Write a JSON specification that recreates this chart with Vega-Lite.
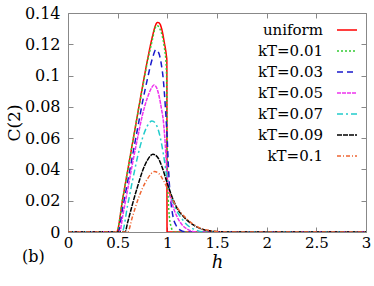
{
  "$schema": "https://vega.github.io/schema/vega-lite/v6.json",
  "width": 298,
  "height": 219,
  "padding": {"left": 5, "top": 5, "right": 5, "bottom": 5},
  "background": "white",
  "config": {
    "view": {"stroke": "#888888", "strokeWidth": 1},
    "font": "DejaVu Serif",
    "axis": {"labelFont": "DejaVu Serif", "titleFont": "DejaVu Serif"},
    "legend": {"labelFont": "DejaVu Serif"},
    "title": {"font": "DejaVu Serif"}
  },
  "title": {
    "text": "(b)", "orient": "bottom", "anchor": "start", "frame": "group",
    "fontSize": 16, "fontWeight": "normal", "color": "#000000",
    "dx": -46, "dy": -22, "offset": 0
  },
  "data": {
    "values": [
      {"s": "uniform", "h": 0, "c": 0},
      {"s": "uniform", "h": 0.49, "c": 0},
      {"s": "uniform", "h": 0.55, "c": 0.021},
      {"s": "uniform", "h": 0.6, "c": 0.039},
      {"s": "uniform", "h": 0.65, "c": 0.057},
      {"s": "uniform", "h": 0.7, "c": 0.075},
      {"s": "uniform", "h": 0.75, "c": 0.093},
      {"s": "uniform", "h": 0.8, "c": 0.11},
      {"s": "uniform", "h": 0.85, "c": 0.125},
      {"s": "uniform", "h": 0.88, "c": 0.132},
      {"s": "uniform", "h": 0.9, "c": 0.134},
      {"s": "uniform", "h": 0.92, "c": 0.1335},
      {"s": "uniform", "h": 0.95, "c": 0.128},
      {"s": "uniform", "h": 0.97, "c": 0.121},
      {"s": "uniform", "h": 0.99, "c": 0.113},
      {"s": "uniform", "h": 0.995, "c": 0.11},
      {"s": "uniform", "h": 0.997, "c": 0},
      {"s": "uniform", "h": 3, "c": 0},

      {"s": "kT=0.01", "h": 0, "c": 0},
      {"s": "kT=0.01", "h": 0.49, "c": 0},
      {"s": "kT=0.01", "h": 0.55, "c": 0.021},
      {"s": "kT=0.01", "h": 0.6, "c": 0.039},
      {"s": "kT=0.01", "h": 0.65, "c": 0.057},
      {"s": "kT=0.01", "h": 0.7, "c": 0.075},
      {"s": "kT=0.01", "h": 0.75, "c": 0.092},
      {"s": "kT=0.01", "h": 0.8, "c": 0.109},
      {"s": "kT=0.01", "h": 0.85, "c": 0.123},
      {"s": "kT=0.01", "h": 0.875, "c": 0.13},
      {"s": "kT=0.01", "h": 0.895, "c": 0.132},
      {"s": "kT=0.01", "h": 0.92, "c": 0.1305},
      {"s": "kT=0.01", "h": 0.95, "c": 0.125},
      {"s": "kT=0.01", "h": 0.97, "c": 0.118},
      {"s": "kT=0.01", "h": 0.99, "c": 0.105},
      {"s": "kT=0.01", "h": 0.995, "c": 0.09},
      {"s": "kT=0.01", "h": 1.0, "c": 0.04},
      {"s": "kT=0.01", "h": 1.01, "c": 0.02},
      {"s": "kT=0.01", "h": 1.02, "c": 0.01},
      {"s": "kT=0.01", "h": 1.04, "c": 0.003},
      {"s": "kT=0.01", "h": 1.06, "c": 0},
      {"s": "kT=0.01", "h": 3, "c": 0},

      {"s": "kT=0.03", "h": 0, "c": 0},
      {"s": "kT=0.03", "h": 0.505, "c": 0},
      {"s": "kT=0.03", "h": 0.55, "c": 0.015},
      {"s": "kT=0.03", "h": 0.6, "c": 0.032},
      {"s": "kT=0.03", "h": 0.65, "c": 0.049},
      {"s": "kT=0.03", "h": 0.7, "c": 0.066},
      {"s": "kT=0.03", "h": 0.75, "c": 0.083},
      {"s": "kT=0.03", "h": 0.8, "c": 0.098},
      {"s": "kT=0.03", "h": 0.85, "c": 0.111},
      {"s": "kT=0.03", "h": 0.885, "c": 0.1165},
      {"s": "kT=0.03", "h": 0.91, "c": 0.115},
      {"s": "kT=0.03", "h": 0.94, "c": 0.107},
      {"s": "kT=0.03", "h": 0.96, "c": 0.097},
      {"s": "kT=0.03", "h": 0.98, "c": 0.08},
      {"s": "kT=0.03", "h": 1.0, "c": 0.058},
      {"s": "kT=0.03", "h": 1.01, "c": 0.043},
      {"s": "kT=0.03", "h": 1.02, "c": 0.031},
      {"s": "kT=0.03", "h": 1.04, "c": 0.017},
      {"s": "kT=0.03", "h": 1.06, "c": 0.009},
      {"s": "kT=0.03", "h": 1.09, "c": 0.004},
      {"s": "kT=0.03", "h": 1.13, "c": 0.0012},
      {"s": "kT=0.03", "h": 1.2, "c": 0},
      {"s": "kT=0.03", "h": 3, "c": 0},

      {"s": "kT=0.05", "h": 0, "c": 0},
      {"s": "kT=0.05", "h": 0.52, "c": 0},
      {"s": "kT=0.05", "h": 0.55, "c": 0.01},
      {"s": "kT=0.05", "h": 0.6, "c": 0.027},
      {"s": "kT=0.05", "h": 0.65, "c": 0.044},
      {"s": "kT=0.05", "h": 0.7, "c": 0.06},
      {"s": "kT=0.05", "h": 0.75, "c": 0.075},
      {"s": "kT=0.05", "h": 0.8, "c": 0.086},
      {"s": "kT=0.05", "h": 0.84, "c": 0.092},
      {"s": "kT=0.05", "h": 0.865, "c": 0.094},
      {"s": "kT=0.05", "h": 0.89, "c": 0.0925},
      {"s": "kT=0.05", "h": 0.92, "c": 0.086},
      {"s": "kT=0.05", "h": 0.94, "c": 0.079},
      {"s": "kT=0.05", "h": 0.96, "c": 0.071},
      {"s": "kT=0.05", "h": 0.98, "c": 0.055},
      {"s": "kT=0.05", "h": 0.995, "c": 0.038},
      {"s": "kT=0.05", "h": 1.01, "c": 0.03},
      {"s": "kT=0.05", "h": 1.05, "c": 0.018},
      {"s": "kT=0.05", "h": 1.1, "c": 0.0095},
      {"s": "kT=0.05", "h": 1.15, "c": 0.0045},
      {"s": "kT=0.05", "h": 1.21, "c": 0.0015},
      {"s": "kT=0.05", "h": 1.3, "c": 0},
      {"s": "kT=0.05", "h": 3, "c": 0},

      {"s": "kT=0.07", "h": 0, "c": 0},
      {"s": "kT=0.07", "h": 0.545, "c": 0},
      {"s": "kT=0.07", "h": 0.6, "c": 0.017},
      {"s": "kT=0.07", "h": 0.65, "c": 0.033},
      {"s": "kT=0.07", "h": 0.7, "c": 0.048},
      {"s": "kT=0.07", "h": 0.75, "c": 0.06},
      {"s": "kT=0.07", "h": 0.8, "c": 0.068},
      {"s": "kT=0.07", "h": 0.845, "c": 0.071},
      {"s": "kT=0.07", "h": 0.88, "c": 0.0695},
      {"s": "kT=0.07", "h": 0.91, "c": 0.065},
      {"s": "kT=0.07", "h": 0.94, "c": 0.057},
      {"s": "kT=0.07", "h": 0.97, "c": 0.046},
      {"s": "kT=0.07", "h": 1.0, "c": 0.033},
      {"s": "kT=0.07", "h": 1.03, "c": 0.025},
      {"s": "kT=0.07", "h": 1.07, "c": 0.017},
      {"s": "kT=0.07", "h": 1.14, "c": 0.009},
      {"s": "kT=0.07", "h": 1.2, "c": 0.0045},
      {"s": "kT=0.07", "h": 1.28, "c": 0.0015},
      {"s": "kT=0.07", "h": 1.38, "c": 0},
      {"s": "kT=0.07", "h": 3, "c": 0},

      {"s": "kT=0.09", "h": 0, "c": 0},
      {"s": "kT=0.09", "h": 0.575, "c": 0},
      {"s": "kT=0.09", "h": 0.6, "c": 0.006},
      {"s": "kT=0.09", "h": 0.65, "c": 0.018},
      {"s": "kT=0.09", "h": 0.7, "c": 0.029},
      {"s": "kT=0.09", "h": 0.75, "c": 0.039},
      {"s": "kT=0.09", "h": 0.8, "c": 0.046},
      {"s": "kT=0.09", "h": 0.855, "c": 0.0497},
      {"s": "kT=0.09", "h": 0.9, "c": 0.048},
      {"s": "kT=0.09", "h": 0.95, "c": 0.041},
      {"s": "kT=0.09", "h": 1.0, "c": 0.031},
      {"s": "kT=0.09", "h": 1.05, "c": 0.022},
      {"s": "kT=0.09", "h": 1.1, "c": 0.015},
      {"s": "kT=0.09", "h": 1.18, "c": 0.0087},
      {"s": "kT=0.09", "h": 1.25, "c": 0.005},
      {"s": "kT=0.09", "h": 1.34, "c": 0.002},
      {"s": "kT=0.09", "h": 1.45, "c": 0.0005},
      {"s": "kT=0.09", "h": 1.6, "c": 0},
      {"s": "kT=0.09", "h": 3, "c": 0},

      {"s": "kT=0.1", "h": 0, "c": 0},
      {"s": "kT=0.1", "h": 0.6, "c": 0},
      {"s": "kT=0.1", "h": 0.65, "c": 0.01},
      {"s": "kT=0.1", "h": 0.7, "c": 0.02},
      {"s": "kT=0.1", "h": 0.75, "c": 0.028},
      {"s": "kT=0.1", "h": 0.8, "c": 0.034},
      {"s": "kT=0.1", "h": 0.87, "c": 0.0386},
      {"s": "kT=0.1", "h": 0.92, "c": 0.037},
      {"s": "kT=0.1", "h": 0.96, "c": 0.033},
      {"s": "kT=0.1", "h": 1.0, "c": 0.028},
      {"s": "kT=0.1", "h": 1.05, "c": 0.021},
      {"s": "kT=0.1", "h": 1.1, "c": 0.0155},
      {"s": "kT=0.1", "h": 1.19, "c": 0.0087},
      {"s": "kT=0.1", "h": 1.26, "c": 0.005},
      {"s": "kT=0.1", "h": 1.35, "c": 0.002},
      {"s": "kT=0.1", "h": 1.45, "c": 0.0007},
      {"s": "kT=0.1", "h": 1.6, "c": 0},
      {"s": "kT=0.1", "h": 3, "c": 0}
    ]
  },
  "resolve": {"axis": {"x": "independent", "y": "independent"}},
  "layer": [
    {
      "mark": {"type": "line", "strokeWidth": 1.5, "interpolate": "monotone", "clip": true},
      "encoding": {
        "x": {
          "field": "h", "type": "quantitative",
          "scale": {"domain": [0, 3], "nice": false, "zero": false},
          "axis": {
            "orient": "bottom", "values": [0, 0.5, 1, 1.5, 2, 2.5, 3], "format": "~g",
            "tickSize": -5, "tickColor": "#888888", "domain": false, "grid": false,
            "labelFontSize": 15, "labelColor": "#000000",
            "labelPadding": 8, "labelFlush": false,
            "title": "h", "titleFontSize": 18,
            "titleFontStyle": "italic", "titleFontWeight": "normal", "titleColor": "#000000",
            "titlePadding": 3
          }
        },
        "y": {
          "field": "c", "type": "quantitative",
          "scale": {"domain": [0, 0.14], "nice": false},
          "axis": {
            "orient": "left", "values": [0, 0.02, 0.04, 0.06, 0.08, 0.1, 0.12, 0.14], "format": "~g",
            "tickSize": -5, "tickColor": "#888888", "domain": false, "grid": false,
            "labelFontSize": 16, "labelColor": "#000000",
            "labelPadding": 13, "labelFlush": false,
            "title": "C(2)", "titleFontSize": 17,
            "titleFontWeight": "normal", "titleColor": "#000000", "titlePadding": 1
          }
        },
        "color": {
          "field": "s", "type": "nominal",
          "scale": {
            "domain": ["uniform", "kT=0.01", "kT=0.03", "kT=0.05", "kT=0.07", "kT=0.09", "kT=0.1"],
            "range": ["#ff0000", "#33cc33", "#1a1acc", "#ee33ee", "#22cccc", "#000000", "#ee6633"]
          },
          "legend": {
            "title": null, "orient": "top-right", "offset": 6, "padding": 0,
            "symbolType": "stroke", "symbolSize": 400, "symbolStrokeWidth": 1.5,
            "labelFontSize": 15, "labelColor": "#000000",
            "labelAlign": "right", "symbolOffset": 80, "labelOffset": -35,
            "rowPadding": 2, "labelLimit": 200
          }
        },
        "strokeDash": {
          "field": "s", "type": "nominal",
          "scale": {
            "domain": ["uniform", "kT=0.01", "kT=0.03", "kT=0.05", "kT=0.07", "kT=0.09", "kT=0.1"],
            "range": [[1, 0], [2, 2], [6, 4], [4, 1], [6, 3, 2, 3], [5, 1], [4, 2, 1, 2]]
          },
          "legend": {
            "title": null, "orient": "top-right", "offset": 6, "padding": 0,
            "symbolType": "stroke", "symbolSize": 400, "symbolStrokeWidth": 1.5,
            "labelFontSize": 15, "labelColor": "#000000",
            "labelAlign": "right", "symbolOffset": 80, "labelOffset": -35,
            "rowPadding": 2, "labelLimit": 200
          }
        }
      }
    },
    {
      "mark": {"type": "line", "opacity": 0},
      "encoding": {
        "x": {
          "field": "h", "type": "quantitative",
          "axis": {
            "orient": "top", "values": [0, 0.5, 1, 1.5, 2, 2.5, 3], "labels": false,
            "tickSize": -5, "tickColor": "#888888", "domain": false, "grid": false, "title": null
          }
        },
        "y": {
          "field": "c", "type": "quantitative",
          "axis": {
            "orient": "right", "values": [0, 0.02, 0.04, 0.06, 0.08, 0.1, 0.12, 0.14], "labels": false,
            "tickSize": -5, "tickColor": "#888888", "domain": false, "grid": false, "title": null
          }
        },
        "detail": {"field": "s", "type": "nominal"}
      }
    }
  ]
}
